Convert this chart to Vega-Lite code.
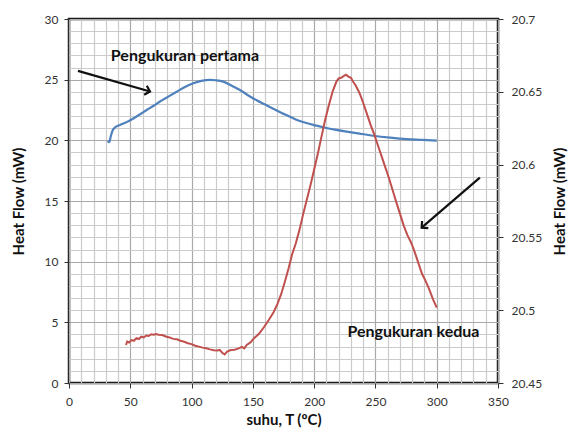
{
  "$schema": "https://vega.github.io/schema/vega-lite/v6.json",
  "width": 429,
  "height": 364,
  "autosize": "none",
  "padding": {"left": 69, "top": 19, "right": 73, "bottom": 47},
  "background": "white",
  "config": {
    "view": {"stroke": "#1a1a1a", "strokeWidth": 2.5},
    "font": "Lato",
    "axis": {"labelFont": "Lato", "titleFont": "Lato", "labelColor": "#333", "titleColor": "#111", "labelFontSize": 12, "titleFontSize": 15, "titleFontWeight": "bold", "domain": false, "tickColor": "#333", "tickSize": 5, "gridWidth": 1.2, "gridOpacity": 1}
  },
  "datasets": {
    "pertama": [
      {"x": 31.6, "y": 19.95}, {"x": 32.8, "y": 19.85}, {"x": 34, "y": 20.3}, {"x": 35.5, "y": 20.8},
      {"x": 37.5, "y": 21.05}, {"x": 41.6, "y": 21.27}, {"x": 47, "y": 21.5}, {"x": 52.5, "y": 21.8},
      {"x": 58, "y": 22.15}, {"x": 63.4, "y": 22.5}, {"x": 69, "y": 22.85}, {"x": 74.2, "y": 23.2},
      {"x": 81, "y": 23.6}, {"x": 87.8, "y": 24.0}, {"x": 94.6, "y": 24.4}, {"x": 101.4, "y": 24.7},
      {"x": 108, "y": 24.9}, {"x": 115, "y": 24.98}, {"x": 120, "y": 24.95}, {"x": 125.9, "y": 24.84},
      {"x": 132.7, "y": 24.5}, {"x": 139.5, "y": 24.15}, {"x": 146.3, "y": 23.7}, {"x": 153.1, "y": 23.3},
      {"x": 160, "y": 22.95}, {"x": 166.7, "y": 22.6}, {"x": 173.5, "y": 22.25}, {"x": 180.3, "y": 21.95},
      {"x": 186, "y": 21.68}, {"x": 193, "y": 21.45}, {"x": 200, "y": 21.25}, {"x": 207.4, "y": 21.08},
      {"x": 217, "y": 20.88}, {"x": 226.5, "y": 20.72}, {"x": 237, "y": 20.55}, {"x": 248.2, "y": 20.38},
      {"x": 262, "y": 20.22}, {"x": 275.4, "y": 20.1}, {"x": 288, "y": 20.04}, {"x": 300, "y": 19.98}
    ],
    "kedua": [
      {"x": 46.5, "y": 20.4761}, {"x": 47.5, "y": 20.4785}, {"x": 49, "y": 20.4778}, {"x": 51, "y": 20.4795},
      {"x": 53, "y": 20.479}, {"x": 55, "y": 20.4808}, {"x": 57, "y": 20.4802}, {"x": 59, "y": 20.4818},
      {"x": 61, "y": 20.4813}, {"x": 63, "y": 20.4826}, {"x": 65, "y": 20.4823}, {"x": 67, "y": 20.4835},
      {"x": 69, "y": 20.4831}, {"x": 71, "y": 20.4836}, {"x": 73, "y": 20.4831}, {"x": 76, "y": 20.4829},
      {"x": 79, "y": 20.4819}, {"x": 82, "y": 20.4813}, {"x": 85, "y": 20.4803}, {"x": 88, "y": 20.48},
      {"x": 91, "y": 20.479}, {"x": 94, "y": 20.4783}, {"x": 97, "y": 20.4773}, {"x": 100, "y": 20.4767},
      {"x": 103, "y": 20.4756}, {"x": 106, "y": 20.475}, {"x": 109, "y": 20.4743}, {"x": 112, "y": 20.4738},
      {"x": 115, "y": 20.4731}, {"x": 118, "y": 20.4725}, {"x": 121, "y": 20.4723}, {"x": 123, "y": 20.4727},
      {"x": 125, "y": 20.4708}, {"x": 127, "y": 20.4696}, {"x": 129, "y": 20.4715}, {"x": 132, "y": 20.4726},
      {"x": 135, "y": 20.4729}, {"x": 138, "y": 20.4736}, {"x": 141, "y": 20.4748}, {"x": 143, "y": 20.4738},
      {"x": 145, "y": 20.4762}, {"x": 148, "y": 20.4779}, {"x": 151, "y": 20.4808}, {"x": 155, "y": 20.4838},
      {"x": 159, "y": 20.4883}, {"x": 163, "y": 20.4933}, {"x": 167, "y": 20.4988}, {"x": 170, "y": 20.5042},
      {"x": 173, "y": 20.5108}, {"x": 176, "y": 20.5192}, {"x": 179, "y": 20.5283}, {"x": 182, "y": 20.5383},
      {"x": 185, "y": 20.5458}, {"x": 188, "y": 20.555}, {"x": 191, "y": 20.5658}, {"x": 194, "y": 20.5758},
      {"x": 197, "y": 20.5858}, {"x": 200, "y": 20.5967}, {"x": 203, "y": 20.6075}, {"x": 206, "y": 20.6192},
      {"x": 209, "y": 20.6308}, {"x": 212, "y": 20.6408}, {"x": 215, "y": 20.65}, {"x": 218, "y": 20.6567},
      {"x": 220, "y": 20.6592}, {"x": 222, "y": 20.6596}, {"x": 224, "y": 20.6608}, {"x": 226, "y": 20.6617},
      {"x": 228, "y": 20.6604}, {"x": 230, "y": 20.6596}, {"x": 232, "y": 20.6567}, {"x": 234, "y": 20.6542},
      {"x": 237, "y": 20.6492}, {"x": 240, "y": 20.6425}, {"x": 243, "y": 20.635}, {"x": 246, "y": 20.6275},
      {"x": 249, "y": 20.6208}, {"x": 252, "y": 20.6133}, {"x": 255, "y": 20.6058}, {"x": 258, "y": 20.5983},
      {"x": 261, "y": 20.5908}, {"x": 264, "y": 20.5825}, {"x": 267, "y": 20.5742}, {"x": 270, "y": 20.5663},
      {"x": 273, "y": 20.5583}, {"x": 276, "y": 20.5517}, {"x": 279, "y": 20.5467}, {"x": 282, "y": 20.54},
      {"x": 285, "y": 20.5325}, {"x": 288, "y": 20.525}, {"x": 291, "y": 20.52}, {"x": 294, "y": 20.5142},
      {"x": 297, "y": 20.5075}, {"x": 300, "y": 20.5017}
    ],
    "arrows": [
      {"x": 7.3, "y": 25.72, "x2": 66.1, "y2": 24.02},
      {"x": 335.2, "y": 16.93, "x2": 287.7, "y2": 12.8}
    ],
    "heads": [
      {"x": 66.1, "y": 24.02, "dir": "kanan"},
      {"x": 287.7, "y": 12.8, "dir": "kiri"}
    ],
    "labels": [
      {"x": 94.6, "y": 26.96, "text": "Pengukuran pertama"},
      {"x": 281, "y": 4.2, "text": "Pengukuran kedua"}
    ]
  },
  "layer": [
    {
      "data": {"name": "arrows"},
      "mark": {"type": "rule", "color": "#111", "strokeWidth": 2.2},
      "encoding": {
        "x": {
          "field": "x", "type": "quantitative",
          "scale": {"domain": [0, 350], "nice": false},
          "axis": {
            "orient": "bottom",
            "values": [10, 20, 30, 40, 60, 70, 80, 90, 110, 120, 130, 140, 160, 170, 180, 190, 210, 220, 230, 240, 260, 270, 280, 290, 310, 320, 330, 340],
            "labels": false, "ticks": false, "domain": false, "title": null,
            "grid": true, "gridColor": "#cbcbcb"
          }
        },
        "y": {
          "field": "y", "type": "quantitative",
          "scale": {"domain": [0, 30], "nice": false},
          "axis": {
            "orient": "left",
            "values": [1, 2, 3, 4, 6, 7, 8, 9, 11, 12, 13, 14, 16, 17, 18, 19, 21, 22, 23, 24, 26, 27, 28, 29],
            "labels": false, "ticks": false, "domain": false, "title": null,
            "grid": true, "gridColor": "#cbcbcb"
          }
        },
        "x2": {"field": "x2"},
        "y2": {"field": "y2"}
      }
    },
    {
      "data": {"name": "pertama"},
      "mark": {"type": "line", "color": "#4F81BD", "strokeWidth": 2.2, "interpolate": "monotone"},
      "encoding": {
        "x": {
          "field": "x", "type": "quantitative",
          "scale": {"domain": [0, 350], "nice": false},
          "axis": {
            "orient": "bottom",
            "values": [0, 50, 100, 150, 200, 250, 300, 350],
            "labelOverlap": false,
            "labelFlush": false,
            "labelPadding": 8,
            "grid": true,
            "gridColor": "#a9a9a9",
            "title": "suhu, T (ºC)",
            "titlePadding": 5
          }
        },
        "y": {
          "field": "y", "type": "quantitative",
          "scale": {"domain": [0, 30], "nice": false},
          "axis": {
            "orient": "left",
            "values": [0, 5, 10, 15, 20, 25, 30],
            "labelOverlap": false,
            "labelPadding": 6,
            "grid": true,
            "gridColor": "#a9a9a9",
            "title": "Heat Flow (mW)",
            "titlePadding": 18
          }
        }
      }
    },
    {
      "data": {"name": "heads"},
      "mark": {"type": "point", "shape": "M-1,-1L0,0L-1,1", "filled": false, "color": "#111", "strokeWidth": 2.2, "size": 90, "opacity": 1},
      "encoding": {
        "x": {"field": "x", "type": "quantitative", "axis": null, "scale": {"domain": [0, 350], "nice": false}},
        "y": {"field": "y", "type": "quantitative", "axis": null, "scale": {"domain": [0, 30], "nice": false}},
        "angle": {"condition": {"test": "datum.dir === 'kiri'", "value": 139}, "value": 16}
      }
    },
    {
      "data": {"name": "labels"},
      "mark": {"type": "text", "font": "Lato", "fontSize": 16, "fontWeight": "bold", "color": "#111", "align": "center", "baseline": "middle"},
      "encoding": {
        "x": {"field": "x", "type": "quantitative", "axis": null, "scale": {"domain": [0, 350], "nice": false}},
        "y": {"field": "y", "type": "quantitative", "axis": null, "scale": {"domain": [0, 30], "nice": false}},
        "text": {"field": "text"}
      }
    },
    {
      "data": {"name": "kedua"},
      "mark": {"type": "line", "color": "#C0504D", "strokeWidth": 2},
      "encoding": {
        "x": {"field": "x", "type": "quantitative", "axis": null, "scale": {"domain": [0, 350], "nice": false}},
        "y": {
          "field": "y", "type": "quantitative",
          "scale": {"domain": [20.45, 20.7], "nice": false, "zero": false},
          "axis": {
            "orient": "right",
            "values": [20.45, 20.5, 20.55, 20.6, 20.65, 20.7],
            "format": ".4~g",
            "grid": false,
            "labelPadding": 8,
            "title": "Heat Flow (mW)",
            "titleAngle": 270,
            "titlePadding": 26
          }
        }
      }
    }
  ],
  "resolve": {"scale": {"x": "independent", "y": "independent"}}
}
